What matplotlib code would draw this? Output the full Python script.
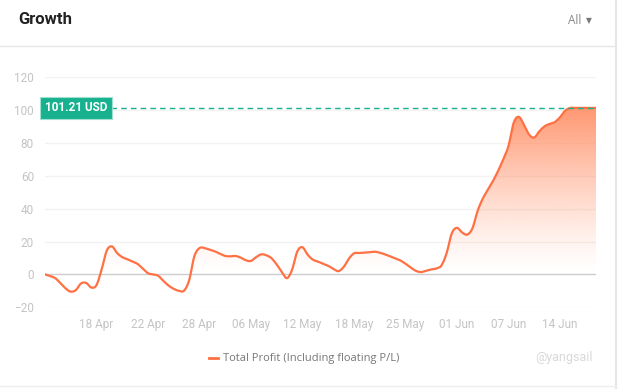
from matplotlib import pyplot as plt
from matplotlib.colors import to_rgb
import numpy as np

# values, one per step along the category axis
profit = [
    0, -1.0, -2.3, -5.3, -8.5, -10.5, -9.5, -5.5, -5.2, -8.0,
    -6.5, 3.0, 14.5, 17.0, 13.0, 10.5, 9.2, 7.8, 6.3, 3.5,
    0.7, 0.0, -0.9, -4.0, -6.8, -8.8, -10.0, -9.9, -3.5, 11.0,
    16.0, 16.0, 15.0, 14.0, 12.5, 11.2, 11.0, 11.2, 10.2, 8.6,
    8.2, 10.5, 12.2, 11.6, 9.8, 6.0, 1.5, -2.3, 3.0, 14.0,
    16.5, 12.0, 9.0, 7.8, 6.5, 5.2, 3.3, 2.0, 4.5, 9.5,
    12.8, 13.0, 13.2, 13.5, 13.8, 13.2, 12.2, 11.0, 9.8, 8.5,
    6.5, 4.2, 2.2, 1.4, 2.2, 3.0, 3.6, 5.5, 13.0, 25.0,
    28.3, 25.5, 24.2, 28.0, 38.5, 46.0, 51.5, 56.8, 63.0, 70.0,
    78.0, 92.0, 95.8, 91.0, 85.0, 83.2, 87.0, 90.0, 91.5, 92.6,
    95.5, 99.5, 101.21, 101.21, 101.21, 101.21, 101.21, 101.21,
]
tick_pos = [10, 20, 30, 40, 50, 60, 70, 80, 90, 100]
tick_labels = ['18 Apr', '22 Apr', '28 Apr', '06 May', '12 May',
               '18 May', '25 May', '01 Jun', '07 Jun', '14 Jun']
y_ticks = [-20, 0, 20, 40, 60, 80, 100, 120]
current = 101.21

LINE = '#ff7043'
GREEN = '#17b18f'
TICK_GRAY = '#c4c4c4'

def smooth_path(x, y, steps=8):
    #   Catmull-Rom path through the points, only for drawing
    xs, ys = [], []
    n = len(x)
    for i in range(n-1):
        p0 = max(i-1, 0)
        p3 = min(i+2, n-1)
        for t in np.linspace(0, 1, steps, endpoint=False):
            t2, t3 = t*t, t*t*t
            def cr(a):
                return 0.5*((2*a[i+1-1+0]) + (-a[p0]+a[i+1])*t
                            + (2*a[p0]-5*a[i]+4*a[i+1]-a[p3])*t2
                            + (-a[p0]+3*a[i]-3*a[i+1]+a[p3])*t3)
            xs.append(cr(x))
            ys.append(cr(y))
    xs.append(x[-1])
    ys.append(y[-1])
    return np.array(xs), np.array(ys)

plt.rcParams['font.family'] = ['Roboto', 'DejaVu Sans']

fig = plt.figure(figsize=(6.19, 3.89), dpi=100)
W, H = 619, 389

# card header and borders
fig.text(18/W, 1-20/H, 'Growth', fontsize=12, fontweight='bold',
         color='#222222', va='center', ha='left')
fig.text(568/W, 1-21/H, 'All', fontsize=8.5, color='#888888',
         va='center', ha='left', family=['Open Sans', 'DejaVu Sans'])
fig.text(586/W, 1-21/H, '▼', fontsize=5.5, color='#777777',
         va='center', ha='left', family='DejaVu Sans')
fig.add_artist(plt.Line2D([0, 616/W], [1-46/H, 1-46/H], color='#e6e6e6', lw=1))
fig.add_artist(plt.Line2D([616/W, 616/W], [0, 1], color='#e6e6e6', lw=1.5))
fig.add_artist(plt.Line2D([0, 616/W], [1-386/H, 1-386/H], color='#eeeeee', lw=1))

ax = fig.add_axes([45/W, 1-307.3/H, 551/W, (307.3-77)/H])
x = np.arange(len(profit), dtype=float)
y = np.array(profit)
sx, sy = smooth_path(x, y)

for v in y_ticks:
    if v == 0:
        ax.axhline(v, color='#cccccc', lw=1, zorder=1)
    else:
        ax.axhline(v, color='#f2f2f2', lw=1, zorder=0)

# gradient area under the curve
top_rgb = np.array(to_rgb('#ff8f66'))
n = 256
alpha = np.linspace(0.0, 0.95, n) ** 1.3
img = np.zeros((n, 1, 4))
img[:, 0, :3] = top_rgb
img[:, 0, 3] = alpha
grad = ax.imshow(img, extent=[0, len(profit)-1, 0, current], origin='lower',
                 aspect='auto', zorder=2)
poly = ax.fill_between(sx, sy, 0, color='none', lw=0)
grad.set_clip_path(poly.get_paths()[0], transform=ax.transData)
ax.set_xlim(0, len(profit)-1)
ax.set_ylim(-20, 120)

ax.plot(sx, sy, color=LINE, lw=1.6, zorder=3, solid_joinstyle='round')

# current value marker
ax.axhline(current, xmin=66/551, color=GREEN, lw=1, ls=(0, (4, 3)), zorder=4)
ax.text(0, current, '101.21 USD', transform=ax.transData,
        fontsize=8.5, fontweight='bold', color='white', va='center', ha='left',
        zorder=5, clip_on=False,
        bbox=dict(boxstyle='square,pad=0.4', fc=GREEN, ec='#9fe0d0', lw=0.8))

ax.set_xticks(tick_pos)
ax.set_xticklabels(tick_labels)
ax.set_yticks(y_ticks)
ax.tick_params(axis='both', length=0, labelsize=8.5, colors=TICK_GRAY)
ax.tick_params(axis='x', pad=8)
ax.tick_params(axis='y', pad=8)
for s in ax.spines.values():
    s.set_visible(False)

# legend
fig.add_artist(plt.Line2D([209/W, 218/W], [1-358/H, 1-358/H], color=LINE, lw=2))
fig.text(223/W, 1-358/H, 'Total Profit (Including floating P/L)', fontsize=8,
         color='#777777', va='center', ha='left',
         family=['Open Sans', 'DejaVu Sans'])
fig.text(535/W, 1-358/H, '@yangsail', fontsize=9, color='#d8d8d8',
         va='center', ha='left')

fig.savefig('out.png', dpi=100)
